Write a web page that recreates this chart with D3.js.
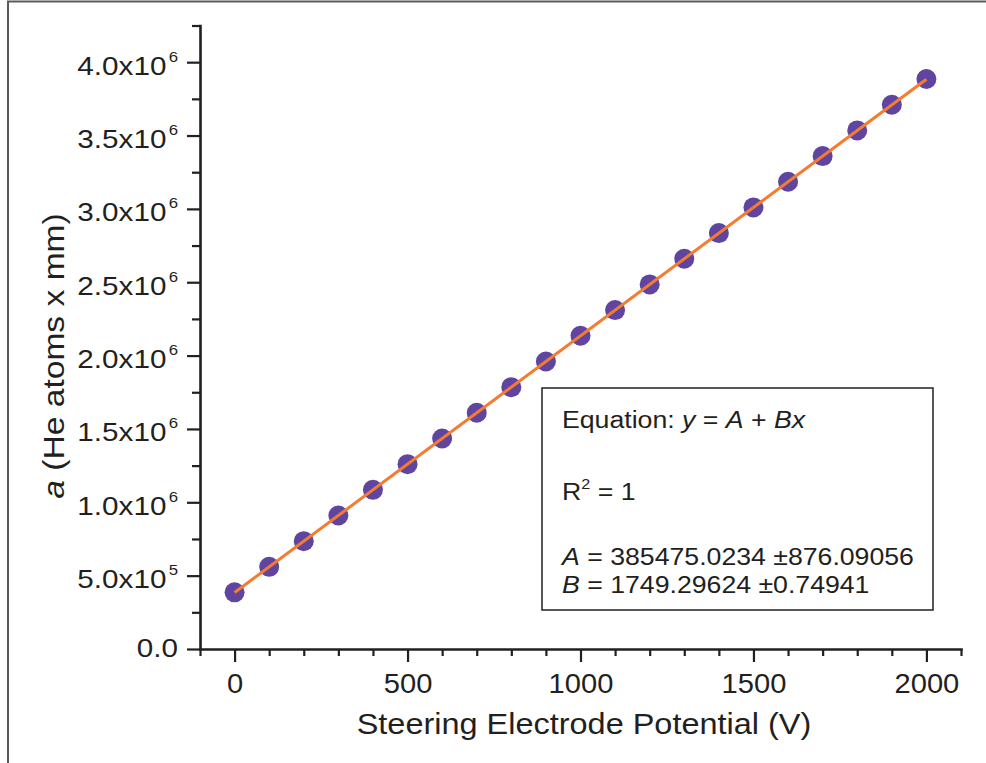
<!DOCTYPE html>
<html>
<head>
<meta charset="utf-8">
<script src="https://cdn.jsdelivr.net/npm/d3@7/dist/d3.min.js"></script>
<style>
  html, body { margin: 0; padding: 0; background: #fff; }
  svg { display: block; font-family: "Liberation Sans", Arial, Helvetica, sans-serif; }
</style>
</head>
<body>
<svg id="chart" width="986" height="763"></svg>
<script>
// Steering electrode potential (V)
const voltages = [0, 100, 200, 300, 400, 500, 600, 700, 800, 900, 1000,
                  1100, 1200, 1300, 1400, 1500, 1600, 1700, 1800, 1900, 2000];
// a (He atoms x mm)
const heSignal = [386000, 560000, 735000, 910000, 1085000, 1260000, 1435000, 1610000,
                  1785000, 1960000, 2135000, 2310000, 2485000, 2660000, 2835000, 3010000,
                  3185000, 3360000, 3535000, 3710000, 3885000];

// Linear fit y = A + Bx
const fitA = 385475.0234, fitAErr = "876.09056";
const fitB = 1749.29624, fitBErr = "0.74941";
const fitAText = "385475.0234", fitBText = "1749.29624";
const fitRange = [0, 2000];

const xMajorTicks = [0, 500, 1000, 1500, 2000];
const xMinorTicks = [-100, 100, 200, 300, 400, 600, 700, 800, 900, 1100, 1200, 1300,
                     1400, 1600, 1700, 1800, 1900, 2100];
const yMajorTicks = [0, 500000, 1000000, 1500000, 2000000, 2500000, 3000000, 3500000, 4000000];
const yMinorTicks = [250000, 750000, 1250000, 1750000, 2250000, 2750000, 3250000, 3750000, 4250000];
const yTickMantissa = ["0.0", "5.0x10", "1.0x10", "1.5x10", "2.0x10", "2.5x10", "3.0x10", "3.5x10", "4.0x10"];
const yTickExponent = ["", "5", "6", "6", "6", "6", "6", "6", "6"];

const ink = "#231f20";
const pointColor = "#5f45a0";
const lineColor = "#f47b30";
const stretch = 1.12;

const svg = d3.select("#chart");

// page frame
svg.append("path").attr("d", "M8,763V1.5H986")
  .attr("fill", "none").attr("stroke", "#5a5a5a").attr("stroke-width", 2);

const x = d3.scaleLinear().domain([-100, 2100]).range([200, 961]);
const y = d3.scaleLinear().domain([0, 4250000]).range([649, 25.5]);

function styleAxis(g) {
  g.selectAll(".domain").attr("stroke", ink).attr("stroke-width", 2.6).attr("stroke-linecap", "square");
  g.selectAll(".tick line").attr("stroke", ink).attr("stroke-width", 2.2);
}

// x axis: minor then major ticks
const xMinorG = svg.append("g").attr("transform", "translate(0,649)")
  .call(d3.axisBottom(x).tickValues(xMinorTicks).tickSize(7).tickSizeOuter(0).tickFormat(""));
styleAxis(xMinorG);

const xMajorG = svg.append("g").attr("transform", "translate(0,649)")
  .call(d3.axisBottom(x).tickValues(xMajorTicks).tickSize(13).tickSizeOuter(0).tickFormat(d3.format("d")));
xMajorG.select(".domain").remove();
styleAxis(xMajorG);
xMajorG.selectAll(".tick text")
  .attr("x", 0).attr("y", 0).attr("dy", null)
  .attr("transform", "translate(0,43.5) scale(1.06,1)")
  .attr("fill", ink).attr("font-size", 27.5)
  .attr("font-family", "'Liberation Sans', Arial, sans-serif");

// y axis
const yMinorG = svg.append("g").attr("transform", "translate(200,0)")
  .call(d3.axisLeft(y).tickValues(yMinorTicks).tickSize(8).tickSizeOuter(0).tickFormat(""));
styleAxis(yMinorG);

const yMajorG = svg.append("g").attr("transform", "translate(200,0)")
  .call(d3.axisLeft(y).tickValues(yMajorTicks).tickSize(13).tickSizeOuter(0).tickFormat(""));
yMajorG.select(".domain").remove();
styleAxis(yMajorG);
yMajorG.selectAll(".tick").each(function(d, i) {
  const t = d3.select(this).select("text");
  const hasExp = yTickExponent[i] !== "";
  t.attr("x", 0).attr("y", 0).attr("dy", null)
    .attr("transform", `translate(-22,${hasExp ? 12 : 7}) scale(${stretch},1)`)
    .attr("text-anchor", "end")
    .attr("fill", ink).attr("font-size", 26.5)
    .attr("font-family", "'Liberation Sans', Arial, sans-serif");
  t.append("tspan").text(yTickMantissa[i]);
  if (hasExp) t.append("tspan").attr("font-size", 15).attr("dx", 2).attr("dy", -13).text(yTickExponent[i]);
});

// data points
svg.append("g").selectAll("circle")
  .data(voltages.map((v, i) => [v, heSignal[i]]))
  .join("circle")
  .attr("cx", d => x(d[0])).attr("cy", d => y(d[1]))
  .attr("r", 10).attr("fill", pointColor);

// fitted line
svg.append("path")
  .datum(fitRange.map(v => [v, fitA + fitB * v]))
  .attr("d", d3.line().x(d => x(d[0])).y(d => y(d[1])))
  .attr("fill", "none").attr("stroke", lineColor).attr("stroke-width", 3);

// axis titles
svg.append("text")
  .attr("transform", `translate(584,734) scale(${stretch},1)`)
  .attr("text-anchor", "middle").attr("font-size", 29).attr("fill", ink)
  .text("Steering Electrode Potential (V)");

const yTitle = svg.append("text")
  .attr("transform", `translate(64,356) rotate(-90) scale(${stretch},1)`)
  .attr("text-anchor", "middle").attr("font-size", 30).attr("fill", ink);
yTitle.append("tspan").attr("font-style", "italic").text("a");
yTitle.append("tspan").text(" (He atoms x mm)");

// fit results box
const box = svg.append("g");
box.append("rect").attr("x", 542).attr("y", 388).attr("width", 391).attr("height", 222)
  .attr("fill", "#fff").attr("stroke", ink).attr("stroke-width", 1.5);

function boxLine(yPos, parts) {
  const t = box.append("text")
    .attr("transform", `translate(562,${yPos}) scale(1.16,1)`)
    .attr("font-size", 23).attr("fill", ink);
  parts.forEach(p => {
    const s = t.append("tspan").text(p.t);
    if (p.i) s.attr("font-style", "italic");
    if (p.sup) s.attr("font-size", 14).attr("dy", -11);
    if (p.down) s.attr("dy", 11);
  });
}
boxLine(428, [{t: "Equation: "}, {t: "y", i: true}, {t: " = "}, {t: "A", i: true}, {t: " + "}, {t: "Bx", i: true}]);
boxLine(500, [{t: "R"}, {t: "2", sup: true}, {t: " = 1", down: true}]);
boxLine(565, [{t: "A", i: true}, {t: " = " + fitAText + " \u00b1" + fitAErr}]);
boxLine(593, [{t: "B", i: true}, {t: " = " + fitBText + " \u00b1" + fitBErr}]);
</script>
</body>
</html>
